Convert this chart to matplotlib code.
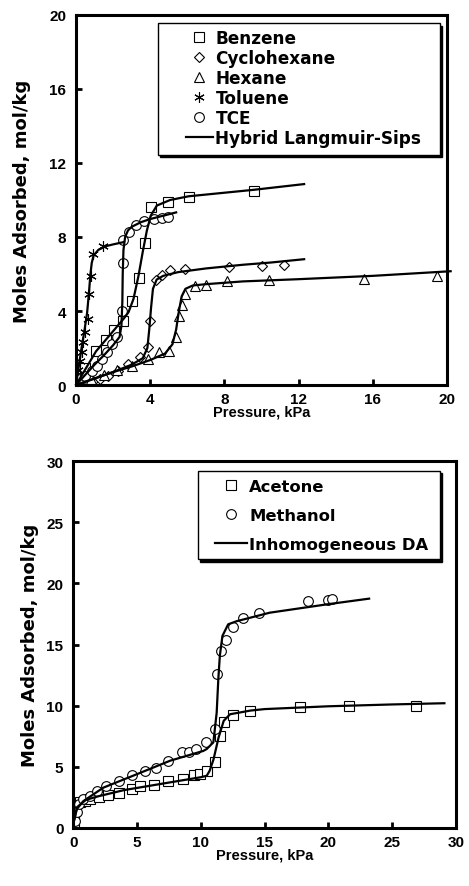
# adsorption isotherms: two stacked panels
import matplotlib.pyplot as plt
from matplotlib.patches import Rectangle

plt.rcParams['font.family'] = ['Liberation Sans', 'DejaVu Sans']
plt.rcParams['font.weight'] = 'bold'

# ---- top panel: measured points (P in kPa, q in mol/kg) ----
benz_p = [0.1, 0.2, 0.5, 1.08, 1.6, 2.05, 2.55, 3.0, 3.4, 3.73, 4.05, 4.95, 6.07, 9.6]
benz_q = [0.2, 0.4, 0.9, 1.84, 2.45, 2.95, 3.45, 4.55, 5.8, 7.7, 9.6, 9.9, 10.15, 10.5]

cyc_p = [0.2, 0.5, 0.94, 1.3, 1.75, 2.29, 2.83, 3.46, 3.86, 4.0, 4.32, 4.63, 5.08, 5.89, 8.23, 10.04, 11.24]
cyc_q = [0.08, 0.15, 0.23, 0.32, 0.5, 0.77, 1.14, 1.5, 2.04, 3.48, 5.66, 5.93, 6.2, 6.25, 6.38, 6.45, 6.49]

hex_p = [0.3, 0.8, 1.5, 2.2, 3.0, 3.86, 4.45, 5.0, 5.4, 5.53, 5.71, 5.89, 6.43, 7.03, 8.14, 10.43, 15.55, 19.44]
hex_q = [0.1, 0.3, 0.55, 0.8, 1.04, 1.4, 1.8, 1.85, 2.57, 3.75, 4.3, 4.92, 5.33, 5.4, 5.6, 5.66, 5.75, 5.91]

tol_p = [0.05, 0.1, 0.2, 0.3, 0.4, 0.5, 0.66, 0.7, 0.79, 0.94, 1.48]
tol_q = [0.4, 0.8, 1.3, 1.8, 2.35, 2.85, 3.55, 4.92, 5.9, 7.08, 7.5]

tce_p = [0.1, 0.22, 0.49, 0.85, 1.12, 1.39, 1.66, 1.93, 2.2, 2.47, 2.52, 2.56, 2.88, 3.22, 3.66, 4.2, 4.63, 4.95]
tce_q = [0.15, 0.32, 0.5, 0.77, 1.04, 1.4, 1.77, 2.22, 2.6, 4.02, 6.6, 7.85, 8.25, 8.63, 8.85, 8.95, 9.0, 9.1]

# ---- top panel: fitted curves (Hybrid Langmuir-Sips) ----
benz_fit_p = [0, 1.08, 2.07, 2.56, 2.83, 3.1, 3.37, 3.6, 3.82, 4.03, 4.36, 5.08, 6.07, 9.58, 12.3]
benz_fit_q = [0, 1.82, 2.99, 3.57, 3.93, 4.65, 5.9, 7.2, 8.34, 9.15, 9.7, 10.0, 10.2, 10.55, 10.86]

cyc_fit_p = [0, 1.0, 2.0, 3.0, 3.6, 3.85, 3.95, 4.05, 4.15, 4.35, 4.7, 5.5, 7.0, 9.0, 10.5, 12.3]
cyc_fit_q = [0, 0.35, 0.7, 1.1, 1.45, 2.0, 3.0, 4.2, 5.2, 5.7, 5.9, 6.1, 6.3, 6.5, 6.62, 6.8]

hex_fit_p = [0, 1.0, 2.0, 3.0, 4.0, 4.8, 5.2, 5.4, 5.55, 5.7, 5.9, 6.3, 7.0, 9.0, 12.0, 16.0, 20.2]
hex_fit_q = [0, 0.35, 0.7, 1.0, 1.35, 1.7, 2.2, 3.0, 4.0, 4.8, 5.2, 5.38, 5.45, 5.6, 5.72, 5.9, 6.15]

tol_fit_p = [0, 0.15, 0.3, 0.45, 0.6, 0.7, 0.78, 0.85, 0.95, 1.2, 1.6, 2.0, 2.55]
tol_fit_q = [0, 1.0, 2.0, 2.9, 3.9, 5.0, 6.0, 6.6, 7.0, 7.3, 7.5, 7.6, 7.72]

tce_fit_p = [0, 0.5, 1.0, 1.5, 2.0, 2.35, 2.45, 2.5, 2.52, 2.56, 2.65, 2.8, 3.0, 3.5, 4.0, 4.7, 5.4]
tce_fit_q = [0, 0.55, 1.1, 1.6, 2.15, 2.6, 3.2, 4.5, 6.0, 7.3, 8.0, 8.35, 8.55, 8.8, 8.97, 9.15, 9.33]

# ---- bottom panel: measured points ----
ace_p = [0.03, 0.03, 0.16, 0.55, 0.94, 1.33, 2.0, 2.7, 3.63, 4.6, 5.25, 6.3, 7.46, 8.6, 9.5,
         9.95, 10.5, 11.1, 11.5, 11.8, 12.5, 13.9, 17.8, 21.6, 26.9]
ace_q = [0.05, 1.0, 1.55, 2.1, 2.2, 2.37, 2.5, 2.7, 2.9, 3.2, 3.4, 3.5, 3.86, 4.04, 4.3,
         4.4, 4.7, 5.36, 7.5, 8.7, 9.2, 9.6, 9.9, 10.0, 10.0]

meth_p = [0.16, 0.29, 0.42, 0.8, 1.33, 1.85, 2.58, 3.6, 4.6, 5.64, 6.5, 7.46, 8.56, 9.1, 9.6,
          10.4, 11.1, 11.25, 11.6, 11.95, 12.5, 13.3, 14.6, 18.4, 20.0, 20.3]
meth_q = [0.6, 1.28, 1.96, 2.37, 2.64, 3.05, 3.4, 3.86, 4.3, 4.68, 4.9, 5.5, 6.2, 6.2, 6.45,
          7.0, 8.1, 12.6, 14.5, 15.4, 16.4, 17.2, 17.6, 18.55, 18.6, 18.7]

# ---- bottom panel: fitted curves (Inhomogeneous DA) ----
ace_fit_p = [0, 0.3, 1.0, 2.0, 4.0, 6.0, 8.0, 10.0, 10.47, 10.7, 11.0, 11.4, 11.8, 12.3, 13.9, 15.0, 20.0, 25.0, 29.1]
ace_fit_q = [0.3, 1.7, 2.3, 2.6, 3.1, 3.45, 3.8, 4.15, 4.27, 4.68, 5.6, 7.4, 8.76, 9.3, 9.6, 9.72, 9.95, 10.1, 10.2]

meth_fit_p = [0, 0.29, 0.8, 2.37, 5.0, 7.6, 10.2, 10.46, 10.99, 11.25, 11.38, 11.5, 11.7, 12.15, 12.8, 15.4, 20.0, 23.2]
meth_fit_q = [0.3, 1.55, 2.2, 3.3, 4.4, 5.5, 6.3, 6.45, 7.0, 9.43, 12.2, 14.1, 15.7, 16.65, 16.9, 17.6, 18.3, 18.75]

fig = plt.figure(figsize=(4.69, 8.87), dpi=100)
ax1 = fig.add_axes([0.162, 0.5648, 0.791, 0.4172])
ax2 = fig.add_axes([0.156, 0.0654, 0.816, 0.4137])

mk = dict(linestyle='none', markerfacecolor='white', markeredgecolor='black',
          markeredgewidth=0.8, color='black')

# top panel
ax1.plot(benz_p, benz_q, marker='s', markersize=6.5, label='Benzene', **mk)
ax1.plot(cyc_p, cyc_q, marker='D', markersize=5.5, label='Cyclohexane', **mk)
ax1.plot(hex_p, hex_q, marker='^', markersize=7, label='Hexane', **mk)
ax1.plot(tol_p, tol_q, marker=(6, 2, 0), markersize=7.5, label='Toluene', **mk)
ax1.plot(tce_p, tce_q, marker='o', markersize=7, label='TCE', **mk)
ax1.plot(benz_fit_p, benz_fit_q, color='black', lw=1.6, label='Hybrid Langmuir-Sips')
ax1.plot(cyc_fit_p, cyc_fit_q, color='black', lw=1.6)
ax1.plot(hex_fit_p, hex_fit_q, color='black', lw=1.6, clip_on=False)
ax1.plot(tol_fit_p, tol_fit_q, color='black', lw=1.6)
ax1.plot(tce_fit_p, tce_fit_q, color='black', lw=1.6)

ax1.set_xlim(0, 20)
ax1.set_ylim(0, 20)
ax1.set_xticks([0, 4, 8, 12, 16, 20])
ax1.set_yticks([0, 4, 8, 12, 16, 20])

# bottom panel
ax2.plot(ace_p, ace_q, marker='s', markersize=6.5, label='Acetone', **mk)
ax2.plot(meth_p, meth_q, marker='o', markersize=7, label='Methanol', **mk)
ax2.plot(ace_fit_p, ace_fit_q, color='black', lw=1.6, label='Inhomogeneous DA')
ax2.plot(meth_fit_p, meth_fit_q, color='black', lw=1.6)

ax2.set_xlim(0, 30)
ax2.set_ylim(0, 30)
ax2.set_xticks([0, 5, 10, 15, 20, 25, 30])
ax2.set_yticks([0, 5, 10, 15, 20, 25, 30])

for ax, lp in ((ax1, 13), (ax2, 5)):
    for s in ax.spines.values():
        s.set_linewidth(2.2)
    ax.tick_params(direction='in', length=4, width=2, labelsize=11)
    ax.tick_params(axis='x', pad=5)
    ax.tick_params(axis='y', pad=7)
    for t in ax.get_xticklabels() + ax.get_yticklabels():
        t.set_fontweight('bold')
    ax.set_xlabel('Pressure, kPa', fontsize=10.5, fontweight='bold', labelpad=-1)
    ax.set_ylabel('Moles Adsorbed, mol/kg', fontsize=13, fontweight='bold',
                  family='DejaVu Sans', labelpad=lp)


# legend box with a solid drop shadow, drawn in axes fractions
def legend_box(ax, x0, y0, x1, y1):
    dx = 2.5 / (ax.bbox.width)
    dy = 2.5 / (ax.bbox.height)
    ax.add_patch(Rectangle((x0 + dx, y0 - dy), x1 - x0, y1 - y0, transform=ax.transAxes,
                           facecolor='black', edgecolor='black', zorder=4))
    ax.add_patch(Rectangle((x0, y0), x1 - x0, y1 - y0, transform=ax.transAxes,
                           facecolor='white', edgecolor='black', lw=1.0, zorder=4.1))


legend_box(ax1, 0.221, 0.622, 0.981, 0.978)
leg1 = ax1.legend(loc='upper left', bbox_to_anchor=(0.296, 0.962), frameon=False,
                  handlelength=1.6, handletextpad=0.15, labelspacing=0.12, borderpad=0,
                  borderaxespad=0, prop={'family': 'DejaVu Sans', 'weight': 'bold', 'size': 12.2})

legend_box(ax2, 0.326, 0.733, 0.958, 0.973)
leg2 = ax2.legend(loc='upper left', bbox_to_anchor=(0.371, 0.952), frameon=False,
                  handlelength=1.95, handletextpad=0.12, labelspacing=0.85, borderpad=0,
                  borderaxespad=0, prop={'family': 'DejaVu Sans', 'weight': 'bold', 'size': 11.8})

fig.savefig('out.png', dpi=100)
